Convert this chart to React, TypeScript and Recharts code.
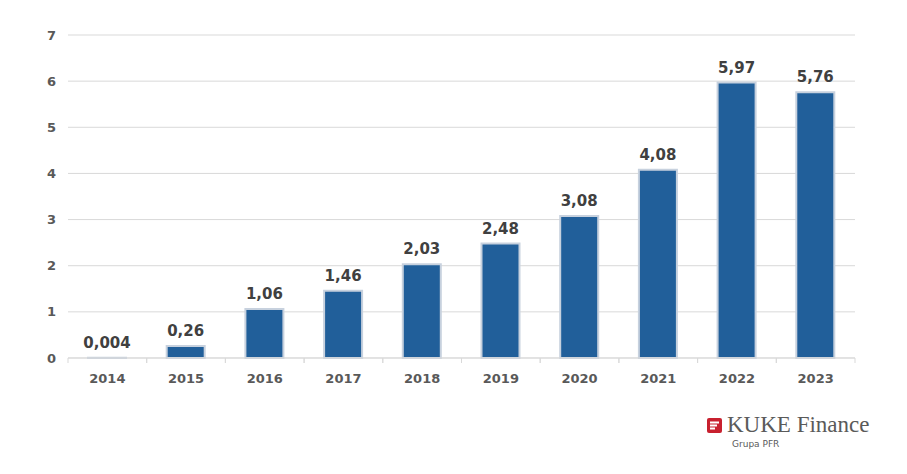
import { BarChart, Bar, XAxis, YAxis, CartesianGrid, LabelList } from 'recharts';

const years = ['2014', '2015', '2016', '2017', '2018', '2019', '2020', '2021', '2022', '2023'];
const values = [0.004, 0.26, 1.06, 1.46, 2.03, 2.48, 3.08, 4.08, 5.97, 5.76];
const labels = ['0,004', '0,26', '1,06', '1,46', '2,03', '2,48', '3,08', '4,08', '5,97', '5,76'];
const yTicks = [0, 1, 2, 3, 4, 5, 6, 7];

const data = years.map((year, i) => ({ year, value: values[i], label: labels[i] }));

const W = 907;
const H = 474;
const margin = { top: 35, right: 52, left: 28, bottom: 86 };
const yAxisWidth = 40;
const band = (W - margin.left - margin.right - yAxisWidth) / years.length;

const textColor = '#404040';
const axisColor = '#595959';
const font = '"DejaVu Sans", Verdana, sans-serif';

const YearTick = (props: any) => {
  const { x, y, payload } = props;
  const half = payload?.offset || band / 2;
  return (
    <g>
      <line x1={x - half} x2={x - half} y1={y - 8} y2={y - 3} stroke="#d9d9d9" />
      <line x1={x + half} x2={x + half} y1={y - 8} y2={y - 3} stroke="#d9d9d9" />
      <text x={x} y={y + 17} textAnchor="middle" fill={axisColor} fontSize={13} fontWeight="bold" fontFamily={font}>
        {payload.value}
      </text>
    </g>
  );
};

function Logo() {
  return (
    <div style={{ position: 'absolute', left: 707, top: 411, fontFamily: '"Liberation Serif", serif', color: '#5a5a5a' }}>
      <svg width={15} height={15} style={{ position: 'absolute', left: 0, top: 7 }}>
        <rect x={0} y={0} width={15} height={15} rx={2} fill="#c8202f" />
        <rect x={3} y={3.5} width={9} height={2} fill="#fff" />
        <rect x={3} y={6.5} width={7} height={2} fill="#fff" />
        <rect x={3} y={9.5} width={5} height={2} fill="#fff" />
      </svg>
      <div style={{ position: 'absolute', left: 20, top: 0, fontSize: 23, whiteSpace: 'nowrap', lineHeight: '27px' }}>
        KUKE Finance
      </div>
      <div style={{ position: 'absolute', left: 25, top: 28, fontSize: 9, whiteSpace: 'nowrap', fontFamily: font }}>
        Grupa PFR
      </div>
    </div>
  );
}

export default function App() {
  return (
    <div style={{ position: 'absolute', left: 0, top: 0, width: W, height: H, background: '#fff' }}>
      <BarChart width={W} height={H} data={data} margin={margin}>
        <CartesianGrid stroke="#d9d9d9" vertical={false} />
        <XAxis
          dataKey="year"
          axisLine={{ stroke: '#d9d9d9' }}
          tickLine={false}
          tick={<YearTick />}
          interval={0}
          height={30}
        />
        <YAxis
          domain={[0, 7]}
          ticks={yTicks}
          axisLine={false}
          tickLine={false}
          width={yAxisWidth}
          tick={{ fill: axisColor, fontSize: 13, fontWeight: 'bold', fontFamily: font, dx: -4 }}
        />
        <Bar dataKey="value" fill="#215f9a" stroke="#c7d1de" strokeWidth={2} barSize={38} isAnimationActive={false}>
          <LabelList
            dataKey="label"
            position="top"
            offset={10}
            fill={textColor}
            fontSize={15}
            fontWeight="bold"
            fontFamily={font}
          />
        </Bar>
      </BarChart>
      <Logo />
    </div>
  );
}
